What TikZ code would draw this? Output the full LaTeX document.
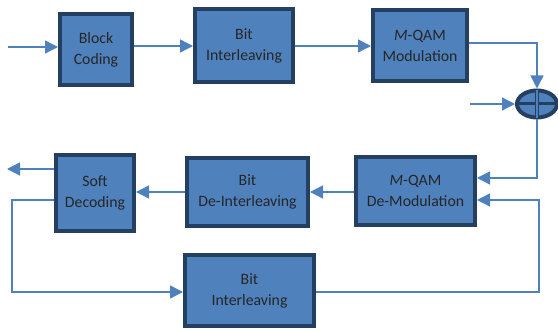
\documentclass[tikz,border=0pt]{standalone}
\usepackage{fontspec}
\setmainfont{Carlito}
\usetikzlibrary{arrows.meta,shapes.geometric,calc}
\definecolor{blockfill}{HTML}{4F81BD}
\definecolor{blockedge}{HTML}{243F60}
\definecolor{wire}{HTML}{4F81BD}
\tikzset{
  blk/.style={draw=blockedge, fill=blockfill, line width=4pt, rectangle,
    align=center, inner sep=0pt, text=black!85,
    font=\fontsize{15.8pt}{21pt}\selectfont},
  wireline/.style={draw=wire, line width=1.4pt},
  sig/.style={wireline, -{Triangle[length=13pt,width=13pt]}},
}
\begin{document}
\begin{tikzpicture}[x=1pt,y=-1pt]
  \useasboundingbox (0,0) rectangle (558,331);
  % transmitter chain
  \node[blk, minimum width=72, minimum height=71] (bc) at (96,49.5) {Block\\Coding};
  \node[blk, minimum width=98, minimum height=73] (bi) at (244,45.5) {Bit\\Interleaving};
  \node[blk, minimum width=94, minimum height=71] (mod) at (420,45.5) {{\itshape M}-QAM\\Modulation};
  % adder with its cross
  \node[ellipse, draw=blockedge, fill=blockfill, line width=4pt,
        minimum width=40, minimum height=27, inner sep=0pt] (add) at (537,104) {};
  \draw[blockedge, line width=3pt] (add.center) ++(-20,0) -- ++(40,0);
  \draw[blockedge, line width=3.5pt] (add.center) ++(0,-14) -- ++(0,28);
  \draw[wire, line width=1.2pt] (add.center) ++(0,-14) -- ++(0,28);
  % receiver chain
  \node[blk, minimum width=119, minimum height=68] (dem) at (415.5,191) {{\itshape M}-QAM\\De-Modulation};
  \node[blk, minimum width=121, minimum height=68] (dei) at (247.5,192) {Bit\\De-Interleaving};
  \node[blk, minimum width=78, minimum height=76] (sd) at (95,193) {Soft\\Decoding};
  \node[blk, minimum width=129, minimum height=71] (bi2) at (249.5,290.5) {Bit\\Interleaving};
  % free ends
  \coordinate (in) at (8,47);
  \coordinate (noise) at (470,104);
  \coordinate (out) at (7,169);
  % forward path
  \draw[sig] (in) -- (bc.west |- in);
  \draw[sig] (bc.east |- 0,46) -- (bi.west |- 0,46);
  \draw[sig] (bi.east |- 0,46) -- (mod.west |- 0,46);
  \draw[sig] (mod.east |- 0,43) -| (add.north);
  \draw[sig] (noise) -- (add.west);
  \draw[sig] (add.south) |- (dem.east |- 0,178);
  \draw[sig] (dem.west |- 0,192) -- (dei.east |- 0,192);
  \draw[sig] (dei.west |- 0,192) -- (sd.east |- 0,192);
  \draw[sig] (sd.west |- out) -- (out);
  % iterative feedback loop
  \draw[sig] (sd.west |- 0,200) -- (12,200) |- (bi2.west |- 0,292);
  \draw[sig] (bi2.east |- 0,292) -- (539,292) |- (dem.east |- 0,200);
\end{tikzpicture}
\end{document}
